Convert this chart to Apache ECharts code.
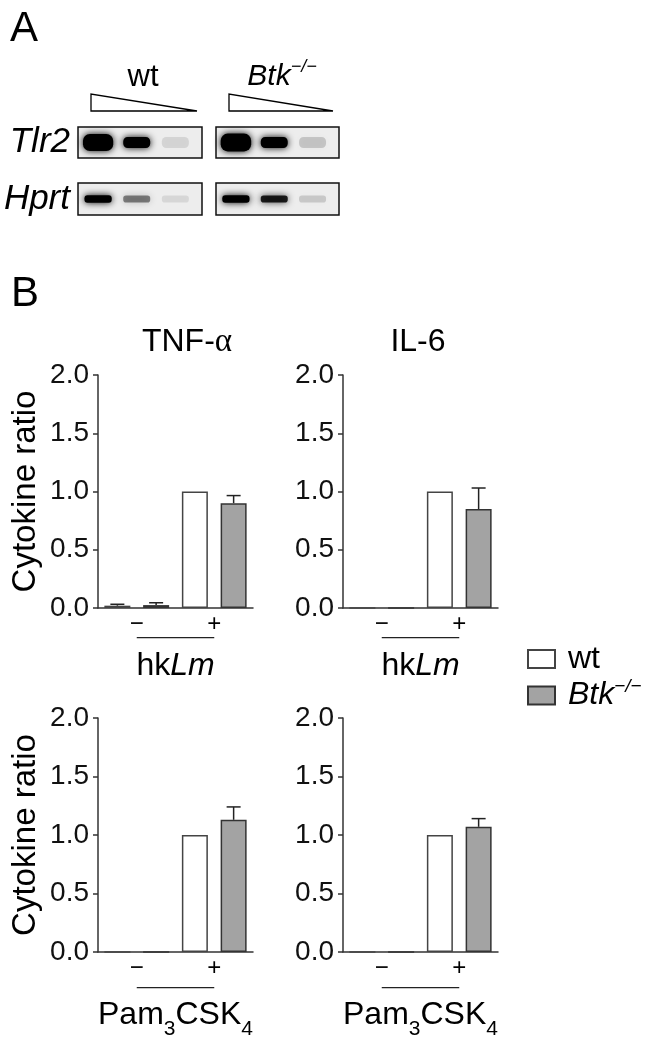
<!DOCTYPE html>
<html>
<head>
<meta charset="utf-8">
<script src="https://cdn.jsdelivr.net/npm/echarts@6/dist/echarts.min.js"></script>
<style>
  html, body { margin: 0; padding: 0; background: #fff; }
  #main { width: 649px; height: 1043px; }
</style>
</head>
<body>
<div id="main"></div>
<script>
    // 数据
    const barCats = ['wt −', 'Btk −', 'wt +', 'Btk +'];
    const groupLabels = ['−', '+'];
    const yTickLabels = ['0.0', '0.5', '1.0', '1.5', '2.0'];

    // TNF-α / hkLm
    const tnfLmWt = [0.02, 1.0];
    const tnfLmWtErr = [0.012, 0];
    const tnfLmBtk = [0.025, 0.90];
    const tnfLmBtkErr = [0.02, 0.065];
    // IL-6 / hkLm
    const il6LmWt = [0, 1.0];
    const il6LmWtErr = [0, 0];
    const il6LmBtk = [0, 0.85];
    const il6LmBtkErr = [0, 0.18];
    // TNF-α / Pam3CSK4
    const tnfPamWt = [0, 1.0];
    const tnfPamWtErr = [0, 0];
    const tnfPamBtk = [0, 1.13];
    const tnfPamBtkErr = [0, 0.11];
    // IL-6 / Pam3CSK4
    const il6PamWt = [0, 1.0];
    const il6PamWtErr = [0, 0];
    const il6PamBtk = [0, 1.07];
    const il6PamBtkErr = [0, 0.07];

    // 凝胶条带信号 (>1 = 饱和)
    const gelLanes = [0, 1, 2];
    const tlr2Wt = [2.2, 1.0, 0.1];
    const tlr2Btk = [2.3, 1.0, 0.16];
    const hprtWt = [1.1, 0.45, 0.09];
    const hprtBtk = [1.1, 0.85, 0.15];

    const FONT = '"Liberation Sans", Arial, sans-serif';

    const panels = [
        {grid: {left: 98, top: 375, width: 155, height: 233}, wt: tnfLmWt, wtErr: tnfLmWtErr, btk: tnfLmBtk, btkErr: tnfLmBtkErr, yName: 'Cytokine ratio', xName: '{n|hk}{i|Lm}'},
        {grid: {left: 343, top: 375, width: 155, height: 233}, wt: il6LmWt, wtErr: il6LmWtErr, btk: il6LmBtk, btkErr: il6LmBtkErr, yName: '', xName: '{n|hk}{i|Lm}'},
        {grid: {left: 98, top: 718, width: 155, height: 234}, wt: tnfPamWt, wtErr: tnfPamWtErr, btk: tnfPamBtk, btkErr: tnfPamBtkErr, yName: 'Cytokine ratio', xName: '{n|Pam}{s|3}{n|CSK}{s|4}'},
        {grid: {left: 343, top: 718, width: 155, height: 234}, wt: il6PamWt, wtErr: il6PamWtErr, btk: il6PamBtk, btkErr: il6PamBtkErr, yName: '', xName: '{n|Pam}{s|3}{n|CSK}{s|4}'}
    ];

    const gels = [
        {grid: {left: 78, top: 127, width: 124, height: 31}, data: tlr2Wt, base: 13},
        {grid: {left: 216, top: 127, width: 123, height: 31}, data: tlr2Btk, base: 13},
        {grid: {left: 78, top: 183, width: 124, height: 32}, data: hprtWt, base: 9},
        {grid: {left: 216, top: 183, width: 123, height: 32}, data: hprtBtk, base: 9}
    ];

    const grids = [], xAxes = [], yAxes = [], series = [];

    panels.forEach(function (p, i) {
        grids.push(Object.assign({containLabel: false, outerBoundsMode: 'none'}, p.grid));
        // 主 x 轴：4 个柱位置
        xAxes.push({
            type: 'category', gridIndex: i, data: barCats,
            axisLine: {lineStyle: {color: '#333', width: 1.5}},
            axisTick: {alignWithLabel: true, length: 6, lineStyle: {color: '#333', width: 1.5}},
            axisLabel: {show: false},
            name: p.xName, nameLocation: 'middle', nameGap: i < 2 ? 42 : 39,
            nameTextStyle: {
                color: '#000',
                rich: {
                    n: {fontSize: 32, fontFamily: FONT, color: '#000'},
                    i: {fontSize: 32, fontFamily: FONT, fontStyle: 'italic', color: '#000'},
                    s: {fontSize: 21, fontFamily: FONT, color: '#000', padding: [28, 0, 0, 0]}
                }
            }
        });
        // 分组标签 − / +
        xAxes.push({
            type: 'category', gridIndex: i, data: groupLabels, position: 'bottom',
            axisLine: {show: false}, axisTick: {show: false},
            axisLabel: {fontSize: 24, fontFamily: FONT, color: '#000', margin: 4}
        });
        yAxes.push({
            type: 'value', gridIndex: i, min: 0, max: 2, interval: 0.5,
            axisLine: {show: true, lineStyle: {color: '#333', width: 1.5}},
            axisTick: {show: true, length: 5, lineStyle: {color: '#333', width: 1.5}},
            splitLine: {show: false},
            axisLabel: {
                fontSize: 28, fontFamily: FONT, color: '#111', margin: 9,
                formatter: function (v) { return yTickLabels[Math.round(v / 0.5)]; }
            },
            name: p.yName, nameLocation: 'middle', nameGap: 56,
            nameTextStyle: {fontSize: 33, fontFamily: FONT, color: '#000'}
        });

        series.push({
            name: 'wt', type: 'bar', xAxisIndex: 2 * i, yAxisIndex: i,
            data: [p.wt[0], '-', p.wt[1], '-'], barWidth: 26,
            itemStyle: {color: '#fff', borderColor: '#444', borderWidth: 1.5}
        });
        series.push({
            name: 'Btk', type: 'bar', xAxisIndex: 2 * i, yAxisIndex: i,
            data: ['-', p.btk[0], '-', p.btk[1]], barWidth: 26, barGap: '-100%',
            itemStyle: {color: '#a3a3a3', borderColor: '#333', borderWidth: 1.5}
        });
        // 误差线 (只画上半)
        const errData = [
            [0, p.wt[0], p.wtErr[0]], [1, p.btk[0], p.btkErr[0]],
            [2, p.wt[1], p.wtErr[1]], [3, p.btk[1], p.btkErr[1]]
        ].filter(function (d) { return d[2] > 0; });
        series.push({
            type: 'custom', xAxisIndex: 2 * i, yAxisIndex: i, silent: true, z: 5,
            data: errData,
            renderItem: function (params, api) {
                const x = api.value(0), v = api.value(1), e = api.value(2);
                const p0 = api.coord([x, v]);
                const p1 = api.coord([x, v + e]);
                const hw = 7;
                return {
                    type: 'group',
                    children: [
                        {type: 'line', shape: {x1: p0[0], y1: p0[1], x2: p1[0], y2: p1[1]}, style: {stroke: '#222', lineWidth: 1.5}},
                        {type: 'line', shape: {x1: p1[0] - hw, y1: p1[1], x2: p1[0] + hw, y2: p1[1]}, style: {stroke: '#222', lineWidth: 1.5}}
                    ]
                };
            }
        });
        // − 到 + 的横线
        series.push({
            type: 'line', xAxisIndex: 2 * i + 1, yAxisIndex: i, silent: true, clip: false,
            symbol: 'none', lineStyle: {color: '#222', width: 1.2},
            data: [[groupLabels[0], i < 2 ? -0.255 : -0.305], [groupLabels[1], i < 2 ? -0.255 : -0.305]]
        });
    });

    // 凝胶
    gels.forEach(function (g, k) {
        const gi = panels.length + k;
        grids.push(Object.assign({show: true, outerBoundsMode: 'none', backgroundColor: '#ededed', borderColor: '#111', borderWidth: 1.5}, g.grid));
        xAxes.push({type: 'value', gridIndex: gi, min: -0.52, max: 2.69, show: false});
        yAxes.push({type: 'value', gridIndex: gi, min: 0, max: 1, show: false});
        series.push({
            type: 'custom', xAxisIndex: xAxes.length - 1, yAxisIndex: yAxes.length - 1, silent: true,
            data: gelLanes.map(function (l, j) { return [l, g.data[j]]; }),
            renderItem: function (params, api) {
                const s = api.value(1);
                const c = api.coord([api.value(0), 0.5]);
                const op = Math.min(1, s);
                const h = g.base * (1 + 0.4 * Math.max(0, s - 1)) - 2;
                const w = 27 * (1 + 0.1 * Math.max(0, s - 1));
                const col = 'rgba(0,0,0,' + op + ')';
                return {
                    type: 'rect',
                    shape: {x: c[0] - w / 2, y: c[1] - h / 2, width: w, height: h, r: h / 2.5},
                    style: {fill: col, shadowBlur: 7, shadowColor: col}
                };
            }
        });
    });

    function txt(x, y, text, size, opts) {
        return {
            type: 'text', x: x, y: y, silent: true,
            style: Object.assign({
                text: text, font: size + 'px ' + FONT, fill: '#000',
                textAlign: 'center', align: 'center', textVerticalAlign: 'middle', verticalAlign: 'middle'
            }, opts || {})
        };
    }

    const richBtk = {
        i: {fontSize: 30, fontFamily: FONT, fontStyle: 'italic', fill: '#000', color: '#000'},
        sup: {fontSize: 18, fontFamily: FONT, fontStyle: 'italic', fill: '#000', color: '#000', padding: [0, 0, 20, 0]}
    };

    const graphic = [
        txt(24, 29, 'A', 42),
        txt(25, 294, 'B', 42),
        txt(143, 77, 'wt', 31),
        txt(282, 77, '{i|Btk}{sup|−/−}', 30, {rich: richBtk}),
        txt(70, 142, 'Tlr2', 35, {textAlign: 'right', align: 'right', font: 'italic 35px ' + FONT}),
        txt(70, 199, 'Hprt', 35, {textAlign: 'right', align: 'right', font: 'italic 35px ' + FONT}),
        txt(187, 342, 'TNF-{a|α}', 32, {rich: {a: {fontSize: 33, fontFamily: '"Liberation Serif", serif', fill: '#000', color: '#000'}}}),
        txt(418, 342, 'IL-6', 32),
        {type: 'polygon', silent: true, shape: {points: [[91, 94], [91, 111], [197, 111]]}, style: {fill: '#fff', stroke: '#000', lineWidth: 1.3}},
        {type: 'polygon', silent: true, shape: {points: [[229, 94], [229, 111], [333, 111]]}, style: {fill: '#fff', stroke: '#000', lineWidth: 1.3}}
    ];

    const chart = echarts.init(document.getElementById('main'));
    chart.setOption({
        animation: false,
        backgroundColor: '#fff',
        textStyle: {fontFamily: FONT},
        legend: {
            data: ['wt', 'Btk'], orient: 'vertical', left: 527, top: 643, padding: 0,
            itemWidth: 27, itemHeight: 18, itemGap: 2, icon: 'rect',
            textStyle: {
                fontSize: 32, fontFamily: FONT, color: '#000', lineHeight: 20, padding: [0, 0, 0, 8],
                rich: {
                    i: {fontSize: 32, fontFamily: FONT, fontStyle: 'italic', color: '#000', lineHeight: 20},
                    sup: {fontSize: 19, fontFamily: FONT, fontStyle: 'italic', color: '#000', padding: [0, 0, 18, 0]}
                }
            },
            formatter: function (n) { return n === 'Btk' ? '{i|Btk}{sup|−/−}' : n; }
        },
        grid: grids,
        xAxis: xAxes,
        yAxis: yAxes,
        series: series,
        graphic: graphic
    });
</script>
</body>
</html>
